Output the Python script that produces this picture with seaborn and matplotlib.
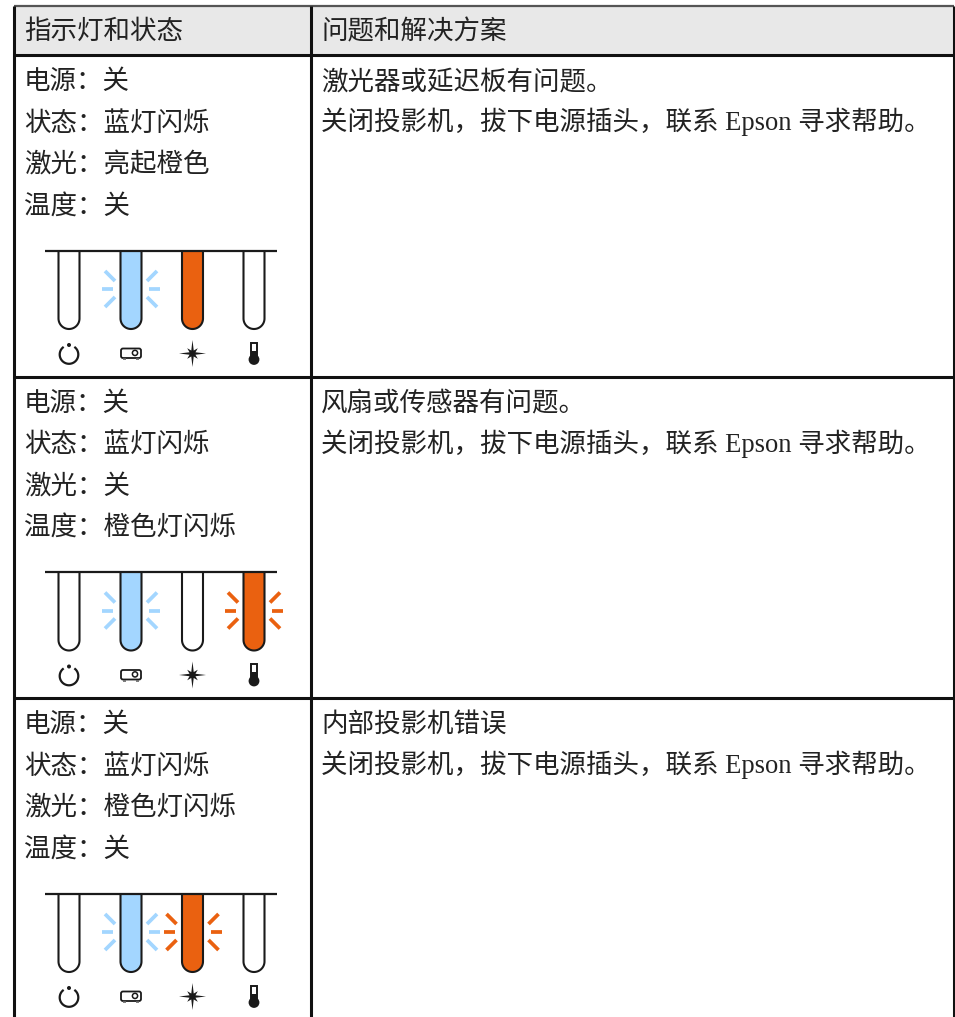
import numpy as np
import matplotlib
matplotlib.use("Agg")
import matplotlib.pyplot as plt
import seaborn as sns

# table text
header = ["指示灯和状态", "问题和解决方案"]
left_lines = [
    ["电源：关", "状态：蓝灯闪烁", "激光：亮起橙色", "温度：关"],
    ["电源：关", "状态：蓝灯闪烁", "激光：关", "温度：橙色灯闪烁"],
    ["电源：关", "状态：蓝灯闪烁", "激光：橙色灯闪烁", "温度：关"],
]
right_lines = [
    ["激光器或延迟板有问题。", "关闭投影机，拔下电源插头，联系 Epson 寻求帮助。"],
    ["风扇或传感器有问题。", "关闭投影机，拔下电源插头，联系 Epson 寻求帮助。"],
    ["内部投影机错误", "关闭投影机，拔下电源插头，联系 Epson 寻求帮助。"],
]
# lamp state: off / on / blink, for power, status, laser, temp
lamp_fill = [
    [None, "blue", "orange", None],
    [None, "blue", None, "orange"],
    [None, "blue", "orange", None],
]
lamp_blink = [
    [False, True, False, False],
    [False, True, False, True],
    [False, True, True, False],
]

colors = {"blue": "#A3D6FF", "orange": "#EA6110"}
ink = "#1A1A1A"
fonts = ["Liberation Serif", "Noto Sans CJK SC", "DejaVu Sans"]
fs = 19.1

sns.set_theme(style="white")
plt.rcParams["font.family"] = fonts

fig = plt.figure(figsize=(9.55, 10.17), dpi=100)
ax = fig.add_axes([0, 0, 1, 1])


def seg(xs, ys, color=ink, lw=2.0):
    # seaborn line without sorting or aggregation
    sns.lineplot(x=xs, y=ys, color=color, lw=lw, estimator=None, sort=False,
                 legend=False, ax=ax, solid_capstyle="butt")


def label(x, y, s):
    ax.text(x, y, s, fontsize=fs, color="#222222", family=fonts, weight="light")


def tube(cx, top, bottom, fill):
    r = 10.5
    t = np.linspace(np.pi, 0, 30)
    xs = [cx - r] + list(cx + r * np.cos(t)) + [cx + r]
    ys = [top] + list(bottom - r + r * np.sin(t)) + [top]
    if fill:
        ax.fill(xs, ys, color=colors[fill], lw=0, zorder=1)
    seg(xs, ys, lw=1.5)


def rays(cx, cy, color):
    for s in (-1, 1):
        seg([cx + s * 18, cx + s * 29], [cy, cy], color, 2.7)
        for v in (-1, 1):
            seg([cx + s * 16, cx + s * 26], [cy + v * 8, cy + v * 18], color, 2.7)


def icons(xs, cy):
    # power, gap at the top (y axis is flipped)
    t = np.radians(np.linspace(-55, 235, 50))
    seg(xs[0] + 9.3 * np.cos(t), cy + 9.3 * np.sin(t), lw=1.6)
    ax.add_patch(plt.Circle((xs[0], cy - 9.5), 2, color=ink, lw=0))
    # projector
    ax.add_patch(matplotlib.patches.FancyBboxPatch(
        (xs[1] - 10, cy - 6), 20, 9.5, boxstyle="round,pad=0,rounding_size=2",
        fc="white", ec=ink, lw=1.3))
    ax.add_patch(plt.Circle((xs[1] + 4, cy - 1.6), 2.6, fc="white", ec=ink, lw=1.1))
    seg([xs[1] - 8, xs[1] - 5], [cy + 4.5, cy + 4.5], "#666666", 1.2)
    seg([xs[1] + 5, xs[1] + 8], [cy + 4.5, cy + 4.5], "#666666", 1.2)
    # star
    a = np.radians(np.arange(0, 360, 22.5))
    rad = np.array([13.5, 3.2, 7.5, 3.2] * 4)
    ax.fill(xs[2] + rad * np.cos(a), cy - 1 + rad * np.sin(a), color=ink, lw=0)
    # thermometer
    ax.add_patch(matplotlib.patches.Rectangle((xs[3] - 2.8, cy - 12), 5.6, 16, fc="white", ec=ink, lw=1.4))
    ax.add_patch(matplotlib.patches.Rectangle((xs[3] - 2.8, cy - 4), 5.6, 8, fc=ink, ec=ink, lw=0))
    ax.add_patch(plt.Circle((xs[3], cy + 5), 5.4, color=ink, lw=0))


# table frame
left, mid, right = 14, 311, 953.5
top, head = 5.5, 54.5
row_h = 321.5
ax.fill([left, right, right, left], [top, top, head, head], color="#E8E8E8", lw=0, zorder=0)
label(24, top + 33.5, header[0])
label(321, top + 33.5, header[1])
seg([left, right], [top, top], "#555555", 1.6)
seg([left, right], [head, head], "#111111", 2.2)
for x in (left, mid, right):
    seg([x, x], [top, 1017], "#111111", 2.2)

lamp_x = [69, 131, 192.5, 254]
for i in range(3):
    off = i * row_h
    for j, line in enumerate(left_lines[i]):
        label(24, 89 + off + j * 41.5, line)
    for j, line in enumerate(right_lines[i]):
        label(321, 89 + off + j * 41, line)
    if i < 2:
        seg([left, right], [376.5 + off, 376.5 + off], "#111111", 2.2)
    # lamp panel
    bar_y = 250.5 + off
    for k, cx in enumerate(lamp_x):
        tube(cx, bar_y, 329 + off, lamp_fill[i][k])
        if lamp_blink[i][k]:
            rays(cx, 289 + off, colors[lamp_fill[i][k]])
    seg([45, 277], [bar_y, bar_y], ink, 1.6)
    icons(lamp_x, 354.5 + off)

ax.set_xlim(0, 955)
ax.set_ylim(1017, 0)
ax.axis("off")
fig.savefig("out.png", dpi=100)
